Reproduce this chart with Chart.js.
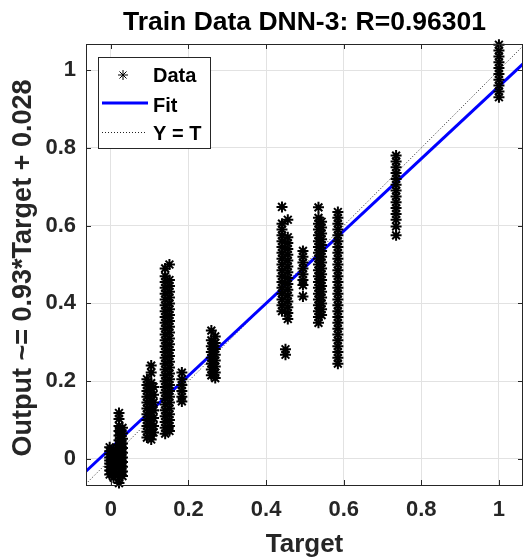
<!DOCTYPE html>
<html><head><meta charset="utf-8">
<style>html,body{margin:0;padding:0;background:#fff;}canvas{display:block;}</style>
<script src="https://cdn.jsdelivr.net/npm/chart.js@4.4.1/dist/chart.umd.min.js"></script>
</head><body>
<canvas id="c" width="524" height="558"></canvas>
<script>
// ---- text ----
const chartTitle = 'Train Data DNN-3: R=0.96301';
const xLabel = 'Target';
const yLabel = 'Output ~= 0.93*Target + 0.028';
const legendLabels = ['Data', 'Fit', 'Y = T'];

// ---- axes ----
const tickValues = [0, 0.2, 0.4, 0.6, 0.8, 1];
const xLimits = [-0.064, 1.062];
const yLimits = [-0.067, 1.067];

// ---- fit ----
const fitSlope = 0.93;
const fitIntercept = 0.028;

// ---- data: target value of each column, and the outputs read in that column ----
const columnTargets = [-0.003, 0.007, 0.021, 0.030, 0.093, 0.104, 0.110, 0.140, 0.151, 0.183,
                       0.259, 0.269, 0.441, 0.456, 0.450, 0.495, 0.535, 0.543, 0.585, 0.735, 1.000];
const out01 = [0.030, 0.020, 0.012, 0.004, -0.004, -0.012, -0.020, -0.030, -0.040];
const out02 = [0.025, 0.015, 0.005, -0.005, -0.015, -0.025, -0.035, -0.048];
const out03 = [0.118, 0.103, 0.085, 0.072, 0.060, 0.048, 0.036, 0.024, 0.012, 0.000, -0.012, -0.024, -0.036, -0.048, -0.062];
const out04 = [0.080, 0.066, 0.052, 0.040, 0.028, 0.016, 0.004, -0.008, -0.020, -0.032, -0.044];
const out05 = [0.205, 0.190, 0.175, 0.160, 0.145, 0.130, 0.115, 0.100, 0.085, 0.070, 0.055];
const out06 = [0.240, 0.222, 0.195, 0.180, 0.165, 0.150, 0.135, 0.120, 0.105, 0.090, 0.075, 0.060, 0.050];
const out07 = [0.185, 0.165, 0.145, 0.125, 0.105, 0.085, 0.068];
const out08 = [0.490, 0.470, 0.455, 0.440, 0.425, 0.410, 0.395, 0.380, 0.365, 0.350, 0.335, 0.320, 0.305, 0.290, 0.275,
               0.260, 0.245, 0.230, 0.215, 0.200, 0.185, 0.170, 0.155, 0.140, 0.125, 0.110, 0.095, 0.080, 0.065];
const out09 = [0.500, 0.460, 0.445, 0.430, 0.415, 0.400, 0.385, 0.370, 0.355, 0.340, 0.325, 0.310, 0.295, 0.280,
               0.265, 0.250, 0.235, 0.220, 0.205, 0.190, 0.175, 0.160, 0.145, 0.130, 0.115, 0.100, 0.085, 0.072];
const out10 = [0.222, 0.205, 0.190, 0.175, 0.160, 0.148];
const out11 = [0.330, 0.305, 0.290, 0.275, 0.260, 0.245, 0.230, 0.215];
const out12 = [0.315, 0.298, 0.283, 0.268, 0.253, 0.238, 0.222, 0.208];
const out13 = [0.648, 0.605, 0.590, 0.575, 0.560, 0.545, 0.530, 0.515, 0.500, 0.485, 0.470, 0.455, 0.440, 0.425, 0.410, 0.395, 0.380];
const out14 = [0.615, 0.570, 0.555, 0.540, 0.525, 0.510, 0.495, 0.480, 0.465, 0.450, 0.435, 0.420, 0.405, 0.390, 0.375, 0.360];
const out15 = [0.282, 0.268];
const out16 = [0.535, 0.520, 0.505, 0.490, 0.475, 0.460, 0.447, 0.418];
const out17 = [0.647, 0.620, 0.605, 0.590, 0.575, 0.560, 0.545, 0.530, 0.515, 0.500, 0.485, 0.470, 0.455, 0.440,
               0.425, 0.410, 0.395, 0.380, 0.365, 0.350];
const out18 = [0.610, 0.595, 0.580, 0.565, 0.550, 0.535, 0.520, 0.505, 0.490, 0.475, 0.460, 0.445, 0.430, 0.415, 0.400, 0.385, 0.370];
const out19 = [0.635, 0.620, 0.605, 0.590, 0.575, 0.560, 0.545, 0.530, 0.515, 0.500, 0.485, 0.470, 0.455, 0.440,
               0.425, 0.410, 0.395, 0.380, 0.365, 0.350, 0.335, 0.320, 0.305, 0.290, 0.275, 0.260, 0.245];
const out20 = [0.780, 0.765, 0.750, 0.735, 0.720, 0.705, 0.690, 0.675, 0.660, 0.645, 0.630, 0.615, 0.598, 0.575];
const out21 = [1.065, 1.050, 1.035, 1.020, 1.005, 0.990, 0.975, 0.960, 0.945, 0.930];
const columnOutputs = [out01, out02, out03, out04, out05, out06, out07, out08, out09, out10, out11,
                       out12, out13, out14, out15, out16, out17, out18, out19, out20, out21];

// ---- build library data ----
const scatterPoints = [];
columnTargets.forEach((t, i) => columnOutputs[i].forEach(y => scatterPoints.push({x: t, y: y})));
const fitPoints = xLimits.map(x => ({x: x, y: fitSlope * x + fitIntercept}));
const identityPoints = xLimits.map(x => ({x: x, y: x}));

const FONT = "'Liberation Sans', Arial, Helvetica, sans-serif";
const TEXT = '#262626';

const decorPlugin = {
  id: 'decor',
  afterDatasetsDraw(chart) {
    const {ctx, chartArea: a, scales} = chart;
    ctx.save();
    ctx.strokeStyle = TEXT; ctx.lineWidth = 1;
    ctx.strokeRect(Math.round(a.left) + 0.5, Math.round(a.top) + 0.5,
                   Math.round(a.right - a.left) - 1, Math.round(a.bottom - a.top));
    const tl = 5;
    ctx.beginPath();
    tickValues.forEach(v => {
      const px = Math.round(scales.x.getPixelForValue(v)) + 0.5;
      ctx.moveTo(px, a.bottom); ctx.lineTo(px, a.bottom - tl);
      ctx.moveTo(px, a.top); ctx.lineTo(px, a.top + tl);
      const py = Math.round(scales.y.getPixelForValue(v)) + 0.5;
      ctx.moveTo(a.left, py); ctx.lineTo(a.left + tl, py);
      ctx.moveTo(a.right, py); ctx.lineTo(a.right - tl, py);
    });
    ctx.stroke();
    ctx.restore();
  },
  afterDraw(chart) {
    const {ctx, chartArea: a} = chart;
    ctx.save();
    // title
    ctx.fillStyle = '#000';
    ctx.font = "bold 26.5px " + FONT;
    ctx.textAlign = 'center'; ctx.textBaseline = 'middle';
    ctx.fillText(chartTitle, (a.left + a.right) / 2, 23);
    // y label
    ctx.save();
    ctx.translate(24, 268);
    ctx.rotate(-Math.PI / 2);
    ctx.fillStyle = TEXT;
    ctx.font = "bold 27px " + FONT;
    ctx.fillText(yLabel, 0, 0);
    ctx.restore();
    // legend
    const bx = a.left + 12, by = a.top + 13, bw = 112, bh = 91;
    ctx.fillStyle = '#fff';
    ctx.fillRect(bx, by, bw, bh);
    ctx.strokeStyle = TEXT; ctx.lineWidth = 1;
    ctx.strokeRect(bx + 0.5, by + 0.5, bw, bh);
    const rows = [by + 18, by + 46, by + 75];
    ctx.strokeStyle = '#000'; ctx.fillStyle = '#000';
    Chart.helpers.drawPoint(ctx, {pointStyle: 'star', radius: 5, borderWidth: 1.6, rotation: 0}, bx + 25, rows[0]);
    ctx.strokeStyle = '#0000ff'; ctx.lineWidth = 3;
    ctx.beginPath(); ctx.moveTo(bx + 4, rows[1]); ctx.lineTo(bx + 50, rows[1]); ctx.stroke();
    ctx.strokeStyle = '#222'; ctx.lineWidth = 1; ctx.setLineDash([1, 2]);
    ctx.beginPath(); ctx.moveTo(bx + 4, rows[2] + 0.5); ctx.lineTo(bx + 48, rows[2] + 0.5); ctx.stroke();
    ctx.setLineDash([]);
    ctx.fillStyle = '#000';
    ctx.font = "bold 20px " + FONT;
    ctx.textAlign = 'left'; ctx.textBaseline = 'middle';
    ctx.fillText(legendLabels[0], bx + 55, rows[0] + 1);
    ctx.fillText(legendLabels[1], bx + 55, rows[1] + 3);
    ctx.fillText(legendLabels[2], bx + 55, rows[2] + 2);
    ctx.restore();
  }
};

const tickFmt = v => String(+Number(v).toFixed(1));

new Chart(document.getElementById('c'), {
  type: 'scatter',
  data: {
    datasets: [
      { label: legendLabels[0], data: scatterPoints, pointStyle: 'star', pointRadius: 5.5, pointHoverRadius: 5.5,
        borderColor: '#000', backgroundColor: '#000', borderWidth: 2, showLine: false, clip: false },
      { label: legendLabels[1], data: fitPoints, showLine: true, borderColor: '#0000ff', borderWidth: 3,
        pointRadius: 0, fill: false },
      { label: legendLabels[2], data: identityPoints, showLine: true, borderColor: '#222', borderWidth: 1,
        borderDash: [1, 2], pointRadius: 0, fill: false }
    ]
  },
  options: {
    responsive: false, animation: false, devicePixelRatio: 1,
    layout: { autoPadding: false, padding: { top: 44, right: 1, left: 0, bottom: 0 } },
    plugins: { legend: { display: false }, title: { display: false }, tooltip: { enabled: false } },
    scales: {
      x: {
        type: 'linear', min: xLimits[0], max: xLimits[1],
        afterBuildTicks: s => { s.ticks = tickValues.map(v => ({value: v})); },
        afterFit: s => { s.height = 73; s.paddingLeft = 0; s.paddingRight = 0; },
        grid: { color: '#e2e2e2', lineWidth: 1, drawTicks: false },
        border: { display: false },
        ticks: { autoSkip: false, maxRotation: 0, padding: 12, color: TEXT,
                 font: { family: FONT, size: 22, weight: 'bold' }, callback: tickFmt },
        title: { display: true, text: xLabel, color: TEXT, padding: { top: 0, bottom: 0 },
                 font: { family: FONT, size: 26, weight: 'bold', lineHeight: 1.0 } }
      },
      y: {
        type: 'linear', min: yLimits[0], max: yLimits[1],
        afterBuildTicks: s => { s.ticks = tickValues.map(v => ({value: v})); },
        afterFit: s => { s.width = 86; s.paddingTop = 0; s.paddingBottom = 0; },
        grid: { color: '#e2e2e2', lineWidth: 1, drawTicks: false },
        border: { display: false },
        ticks: { autoSkip: false, padding: 10, color: TEXT,
                 font: { family: FONT, size: 22, weight: 'bold' }, callback: tickFmt },
        title: { display: false, text: yLabel }
      }
    }
  },
  plugins: [decorPlugin]
});
</script>
</body></html>
